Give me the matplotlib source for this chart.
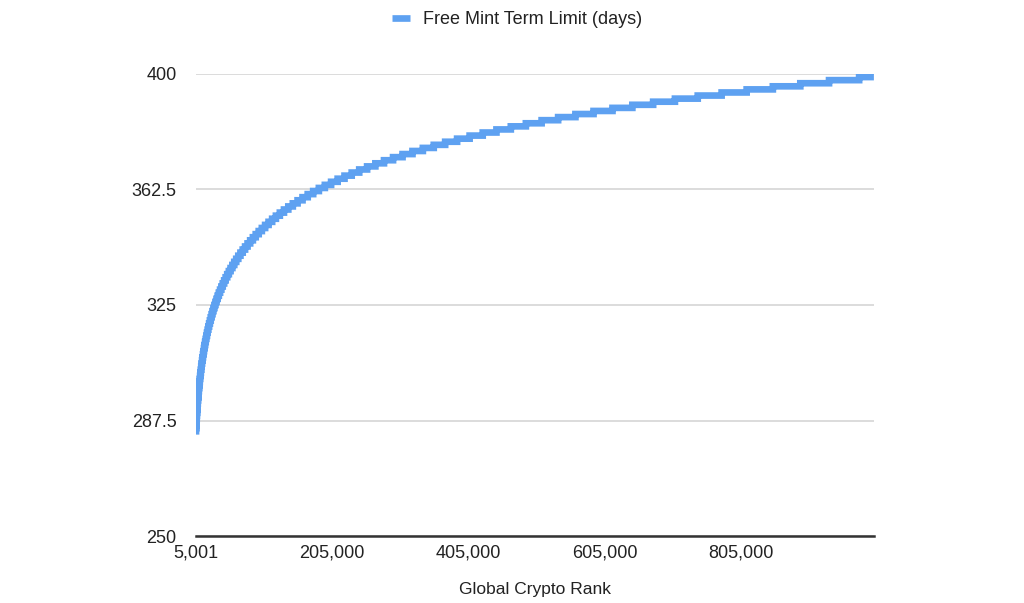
import matplotlib
matplotlib.use('Agg')
import matplotlib.pyplot as plt
from matplotlib.ticker import FuncFormatter

# ==========================================
# 1. 数据
# ==========================================
# 排名区间的起点与终点
FIRST_RANK = 5001
LAST_RANK = 1000000
FIRST_DAYS = 284

# 每个期限值 (天) 从哪个排名开始 (阶梯的跳变点)
STEP_DAYS = list(range(285, 400))
STEP_START_RANK = [
    5043, 5281, 5531, 5793, 6067, 6354, 6654, 6969, 7298, 7643,
    8005, 8383, 8780, 9195, 9630,
    10086, 10563, 11062, 11585, 12133, 12707, 13308, 13937, 14597, 15287,
    16010, 16767, 17560, 18390, 19260,
    20171, 21125, 22124, 23170, 24266, 25414, 26616, 27875, 29193, 30574,
    32020, 33534, 35120, 36781, 38520,
    40342, 42250, 44249, 46341, 48532, 50828, 53232, 55750, 58386, 61148,
    64039, 67068, 70240, 73562, 77041,
    80685, 84501, 88498, 92682, 97064, 101656, 106464, 111499, 116773, 122296,
    128078, 134136, 140480, 147123, 154082,
    161370, 169002, 176995, 185363, 194128, 203312, 212928, 222998, 233546, 244592,
    256157, 268272, 280960, 294246, 308163,
    322739, 338003, 353990, 370726, 388256, 406624, 425856, 445996, 467092, 489184,
    512314, 536544, 561920, 588492, 616326,
    645478, 676006, 707981, 741453, 776512, 813248, 851712, 891992, 934184, 978368,
]

X_TICKS = [5001, 205000, 405000, 605000, 805000]
Y_TICKS = [250, 287.5, 325, 362.5, 400]
Y_TICK_LABELS = ['250', '287.5', '325', '362.5', '400']

SERIES_LABEL = 'Free Mint Term Limit (days)'
X_LABEL = 'Global Crypto Rank'

# 阶梯线的顶点: 起点 + 各跳变点 + 终点
xs = [FIRST_RANK] + STEP_START_RANK + [LAST_RANK]
ys = [FIRST_DAYS] + STEP_DAYS + [STEP_DAYS[-1]]

# ==========================================
# 2. 绘图
# ==========================================
plt.rcParams['font.family'] = ['Liberation Sans', 'DejaVu Sans']
plt.rcParams['path.simplify'] = False
TEXT_COLOR = '#222222'

fig = plt.figure(figsize=(10.24, 6.03), dpi=100)
ax = fig.add_axes([0.1914, 0.1111, 0.662, 0.7662])

line, = ax.plot(xs, ys, drawstyle='steps-post', color='#5ea1f1', linewidth=4.8,
                solid_capstyle='butt', solid_joinstyle='miter',
                label=SERIES_LABEL, zorder=3)
line.set_snap(False)

ax.set_xlim(FIRST_RANK, LAST_RANK)
ax.set_ylim(250, 400)
ax.set_yticks(Y_TICKS)
ax.set_yticklabels(Y_TICK_LABELS)
ax.set_xticks(X_TICKS)
ax.xaxis.set_major_formatter(FuncFormatter(lambda v, p: f'{int(v):,}'))

ax.grid(axis='y', color='#d6d6d6', linewidth=1.2)
ax.set_axisbelow(True)
for side in ['left', 'right', 'top']:
    ax.spines[side].set_visible(False)
ax.spines['bottom'].set_color('#333333')
ax.spines['bottom'].set_linewidth(1.8)
ax.spines['bottom'].set_zorder(4)

ax.tick_params(axis='y', length=0, pad=14, labelsize=13, labelcolor=TEXT_COLOR)
ax.tick_params(axis='x', length=0, pad=6, labelsize=13, labelcolor=TEXT_COLOR)

ax.set_xlabel(X_LABEL, fontsize=12.5, color=TEXT_COLOR, labelpad=15)

fig.legend(handles=[line], loc='upper center', bbox_to_anchor=(0.505, 1.008),
           frameon=False, fontsize=13, handlelength=1.0, handletextpad=0.7,
           labelcolor=TEXT_COLOR)

fig.savefig('out.png', dpi=100, facecolor='white')
